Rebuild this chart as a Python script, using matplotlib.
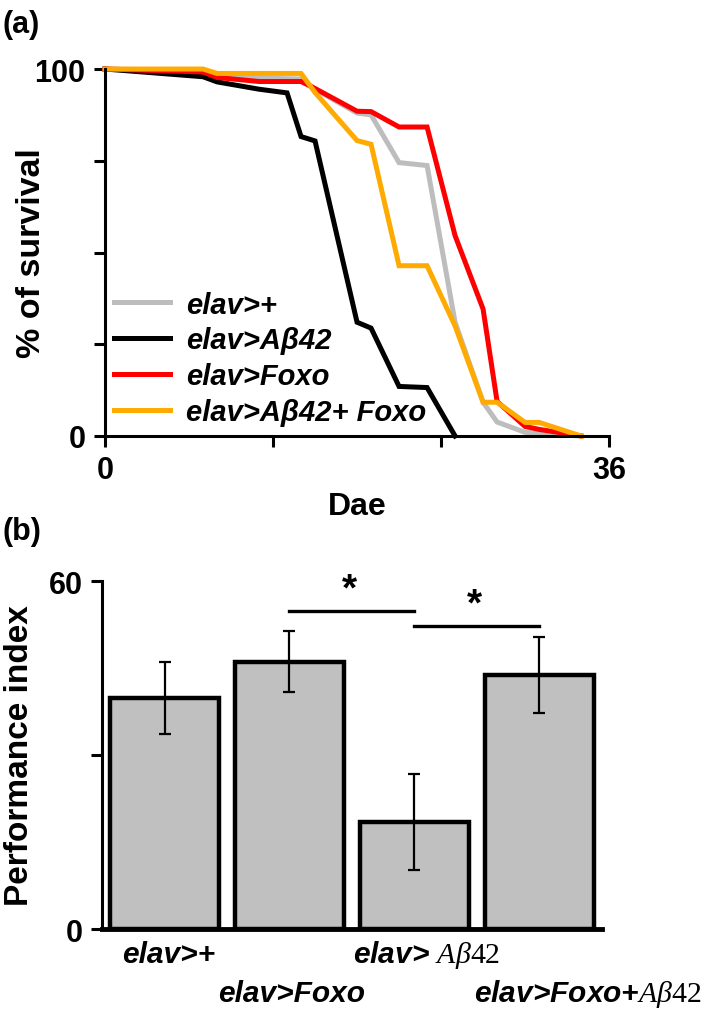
import matplotlib
matplotlib.use("Agg")
import matplotlib.pyplot as plt

# fonts
plt.rcParams['font.family'] = ['Liberation Sans', 'DejaVu Sans']
plt.rcParams['mathtext.fontset'] = 'custom'
plt.rcParams['mathtext.it'] = 'Liberation Serif:italic'
plt.rcParams['mathtext.rm'] = 'Liberation Serif'
NARROW = ['Liberation Sans Narrow', 'Liberation Sans', 'DejaVu Sans']

# (a) survival curves, day vs % alive
days_ctrl = [0, 7, 8, 11, 14, 15, 18, 19, 21, 23, 25, 27, 28, 30, 34]
surv_ctrl = [100, 99.5, 98, 97.5, 97.3, 94.5, 88, 87.5, 74.5, 73.7, 31, 9.2, 3.8, 1.0, 0]

days_ab = [0, 7, 8, 11, 13, 14, 15, 18, 19, 21, 23, 25]
surv_ab = [100, 97.9, 96.5, 94.5, 93.5, 81.6, 80.4, 31, 29.4, 13.5, 13.2, 0]

days_foxo = [0, 7, 8, 11, 14, 15, 18, 19, 21, 23, 25, 27, 28, 30, 31, 34]
surv_foxo = [100, 99.2, 97.7, 96.6, 96.6, 94.7, 88.5, 88.4, 84.2, 84.2, 54.6, 34.6, 9.4, 2.6, 1.8, 0]

days_abfoxo = [0, 7, 8, 14, 15, 18, 19, 21, 23, 25, 27, 28, 30, 31, 34]
surv_abfoxo = [100, 100, 98.8, 98.8, 93.6, 80.5, 79.5, 46.4, 46.4, 30, 9.2, 9.2, 3.7, 3.7, 0]

series_names = ['elav>+', 'elav>Aβ42', 'elav>Foxo', 'elav>Aβ42+ Foxo']
series_colors = ['#bdbdbd', '#000000', '#ff0000', '#ffaa00']

# (b) performance index
groups = ['elav>+', 'elav>Foxo', r'elav> $\mathit{A\beta42}$', r'elav>Foxo+$\mathit{A\beta42}$']
pi_mean = [39.8, 46.1, 18.5, 43.8]
pi_err = [6.2, 5.2, 8.3, 6.6]
sig_pairs = [(1, 2, 54.8), (2, 3, 52.2)]

fig = plt.figure(figsize=(7.09, 10.12), dpi=100)

# ---- panel a ----
ax1 = fig.add_axes([0.1481, 0.5682, 0.711, 0.3626])
for d, s, lab, c in zip([days_ctrl, days_ab, days_foxo, days_abfoxo],
                        [surv_ctrl, surv_ab, surv_foxo, surv_abfoxo],
                        series_names, series_colors):
    ax1.plot(d, s, color=c, lw=3.6, label=lab, solid_joinstyle='miter', clip_on=False)

ax1.set_xlim(0, 36)
ax1.set_ylim(0, 100)
ax1.set_xticks([0, 12, 24, 36])
ax1.set_xticklabels(['0', '', '', '36'])
ax1.set_yticks([0, 25, 50, 75, 100])
ax1.set_yticklabels(['0', '', '', '', '100'])
for sp in ['top', 'right']:
    ax1.spines[sp].set_visible(False)
for sp in ['left', 'bottom']:
    ax1.spines[sp].set_linewidth(2.2)
ax1.tick_params(direction='out', length=8, width=2.2, pad=6)
for t in ax1.get_xticklabels() + ax1.get_yticklabels():
    t.set_fontfamily(NARROW)
    t.set_fontweight('bold')
    t.set_fontsize(22)
ax1.set_ylabel('% of survival', fontsize=24.5, fontweight='bold')
ax1.yaxis.set_label_coords(-0.115, 0.5)
ax1.set_xlabel('Dae', fontsize=23, fontweight='bold', labelpad=4)

leg = ax1.legend(loc='lower left', bbox_to_anchor=(-0.034, -0.045), frameon=False,
                 handlelength=1.9, handletextpad=0.58, labelspacing=0.27,
                 prop={'size': 21, 'weight': 'bold', 'style': 'italic'})
fig.text(0.004, 0.99, '(a)', fontsize=22, fontweight='bold', va='top')

# ---- panel b ----
ax2 = fig.add_axes([0.1439, 0.081, 0.705, 0.3439])
x = range(len(groups))
ax2.bar(x, pi_mean, width=0.87, color='#c0c0c0', edgecolor='black', linewidth=3.2, zorder=2)
ax2.errorbar(x, pi_mean, yerr=pi_err, fmt='none', ecolor='black', elinewidth=1.6,
             capsize=4, capthick=1.6, zorder=3)
for a, b, h in sig_pairs:
    ax2.plot([a, b], [h, h], color='black', lw=2.4, clip_on=False)
    ax2.text((a + b) / 2 - 0.02, h + 0.6, '*', ha='center', va='bottom',
             fontsize=28, fontweight='bold')

ax2.set_xlim(-0.5, 3.5)
ax2.set_ylim(0, 60)
ax2.set_yticks([0, 30, 60])
ax2.set_yticklabels(['0', '', '60'])
ax2.set_xticks([])
for sp in ['top', 'right']:
    ax2.spines[sp].set_visible(False)
ax2.spines['left'].set_linewidth(2.2)
ax2.spines['bottom'].set_linewidth(3.5)
ax2.tick_params(axis='y', direction='out', length=8, width=2.2, pad=6)
for t in ax2.get_yticklabels():
    t.set_fontfamily(NARROW)
    t.set_fontweight('bold')
    t.set_fontsize(22)
ax2.set_ylabel('Performance index', fontsize=24, fontweight='bold')
ax2.yaxis.set_label_coords(-0.135, 0.5)

# staggered group labels under the bars
label_x = [0.03, 1.02, 2.1, 3.39]
label_row = [0, 1, 0, 1]
for lx, row, g in zip(label_x, label_row, groups):
    ax2.text(lx, -0.072 - 0.112 * row, g, transform=ax2.get_xaxis_transform(),
             ha='center', va='center', fontsize=21.5, fontweight='bold',
             fontstyle='italic', family=NARROW)
fig.text(0.004, 0.489, '(b)', fontsize=22, fontweight='bold', va='top')

fig.savefig('out.png', dpi=100)
